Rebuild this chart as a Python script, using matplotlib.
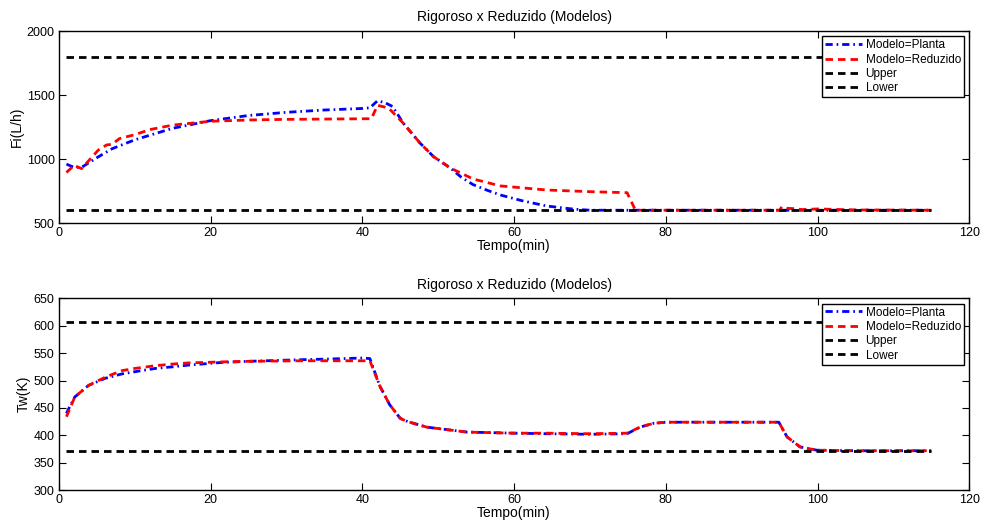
import numpy as np
import matplotlib.pyplot as plt

plt.rcParams['font.family'] = ['Liberation Sans', 'DejaVu Sans']
plt.rcParams['font.size'] = 9

# Fi (L/h) - planta (rigoroso)
t_fi_planta = [1, 2, 3, 5, 7, 10, 15, 20, 25, 30, 35, 40, 41, 42, 43, 44, 45.4, 47.6, 49.4, 51.6,
               53, 54.6, 56.5, 58.2, 61, 64.3, 67.8, 70, 80, 90, 100, 115]
fi_planta = [960, 935, 935, 1010, 1080, 1150, 1240, 1300, 1340, 1365, 1383, 1395, 1400, 1455, 1440, 1410,
             1280, 1125, 1018, 930, 860, 800, 755, 719, 675, 633, 609, 600, 600, 600, 600, 600]

# Fi (L/h) - modelo reduzido
t_fi_red = [1, 2, 3, 3.6, 5.2, 6.3, 7, 8, 10, 12, 15, 20, 25, 30, 41.2, 42, 43, 43.6, 45.4, 47.6, 49.4,
            51.6, 54.6, 58.2, 64.3, 70, 74.9, 76, 80, 90, 95, 95.3, 96, 97, 98, 100, 105, 115]
fi_red = [895, 950, 925, 965, 1070, 1110, 1115, 1160, 1190, 1230, 1265, 1295, 1305, 1310, 1315, 1420,
          1405, 1390, 1280, 1125, 1018, 930, 844, 790, 758, 745, 737, 600, 600, 600, 600, 627, 615, 612,
          605, 610, 602, 600]

# Tw (K) - planta
t_tw_planta = [1, 1.2, 2.1, 3.9, 6.1, 8.3, 10, 12.7, 15, 17, 21.5, 25, 32, 35, 40, 41, 42.3, 43.6, 45, 46,
               48.5, 53.8, 60, 64.3, 70, 74.9, 76.6, 78.4, 80, 90, 94.9, 96, 97.7, 99.9, 105, 115]
tw_planta = [440, 446, 470, 491, 504, 512, 516, 522, 525, 528, 533, 535, 538, 539, 541, 540, 490, 456, 431,
             425, 415, 406, 404, 403, 402, 403, 415, 422, 424, 424, 424, 397, 379, 373, 372, 372]

# Tw (K) - modelo reduzido
t_tw_red = [1, 2.1, 3.9, 6.1, 8.3, 10, 12.7, 15, 17, 21.5, 25, 32, 35, 41, 42.3, 43.6, 45, 46, 48.5,
            53.8, 60, 64.3, 70, 74.9, 76.6, 78.4, 80, 90, 94.9, 96, 97.7, 99.9, 105, 115]
tw_red = [434, 470, 491, 506, 518, 522, 527, 530, 532, 534, 535, 536, 536, 536, 490, 456, 431, 425, 415,
          406, 404, 404, 403, 404, 415, 422, 424, 424, 424, 397, 379, 373, 372, 372]

t_lim = [1, 115]
fi_upper = [1800, 1800]
fi_lower = [600, 600]
tw_upper = [606, 606]
tw_lower = [371, 371]

dash = (0, (2.7, 1.8))
dashdot = (0, (2.6, 1.4, 0.6, 1.4))

fig = plt.figure(figsize=(9.81, 5.26), dpi=100)
ax1 = fig.add_axes([0.060, 0.576, 0.928, 0.365])
ax2 = fig.add_axes([0.060, 0.068, 0.928, 0.365])

panels = [
    (ax1, t_fi_planta, fi_planta, t_fi_red, fi_red, fi_upper, fi_lower, 'Fi(L/h)', (500, 2000), 500),
    (ax2, t_tw_planta, tw_planta, t_tw_red, tw_red, tw_upper, tw_lower, 'Tw(K)', (300, 650), 50),
]

for ax, tp, yp, tr, yr, up, lo, ylab, ylim, ystep in panels:
    ax.plot(tp, yp, color='blue', linestyle=dashdot, linewidth=2.0, label='Modelo=Planta')
    ax.plot(tr, yr, color='red', linestyle=dash, linewidth=2.0, label='Modelo=Reduzido')
    ax.plot(t_lim, up, color='black', linestyle=dash, linewidth=2.0, label='Upper')
    ax.plot(t_lim, lo, color='black', linestyle=dash, linewidth=2.0, label='Lower')
    ax.set_xlim(0, 120)
    ax.set_ylim(*ylim)
    ax.set_xticks(np.arange(0, 121, 20))
    ax.set_yticks(np.arange(ylim[0], ylim[1] + 1, ystep))
    ax.tick_params(direction='in', top=True, right=True, length=5, labelsize=9, pad=3)
    ax.set_xlabel('Tempo(min)', fontsize=10, labelpad=0)
    ax.set_ylabel(ylab, fontsize=10, labelpad=2)
    ax.set_title('Rigoroso x Reduzido (Modelos)', fontsize=10, pad=7)
    for s in ax.spines.values():
        s.set_linewidth(1.0)
    leg = ax.legend(loc='upper right', fontsize=8.5, fancybox=False, framealpha=1,
                    edgecolor='black', handlelength=3.1, handletextpad=0.3,
                    borderpad=0.25, labelspacing=0.2, borderaxespad=0.45)
    leg.get_frame().set_linewidth(1.0)

fig.savefig('out.png', dpi=100)
